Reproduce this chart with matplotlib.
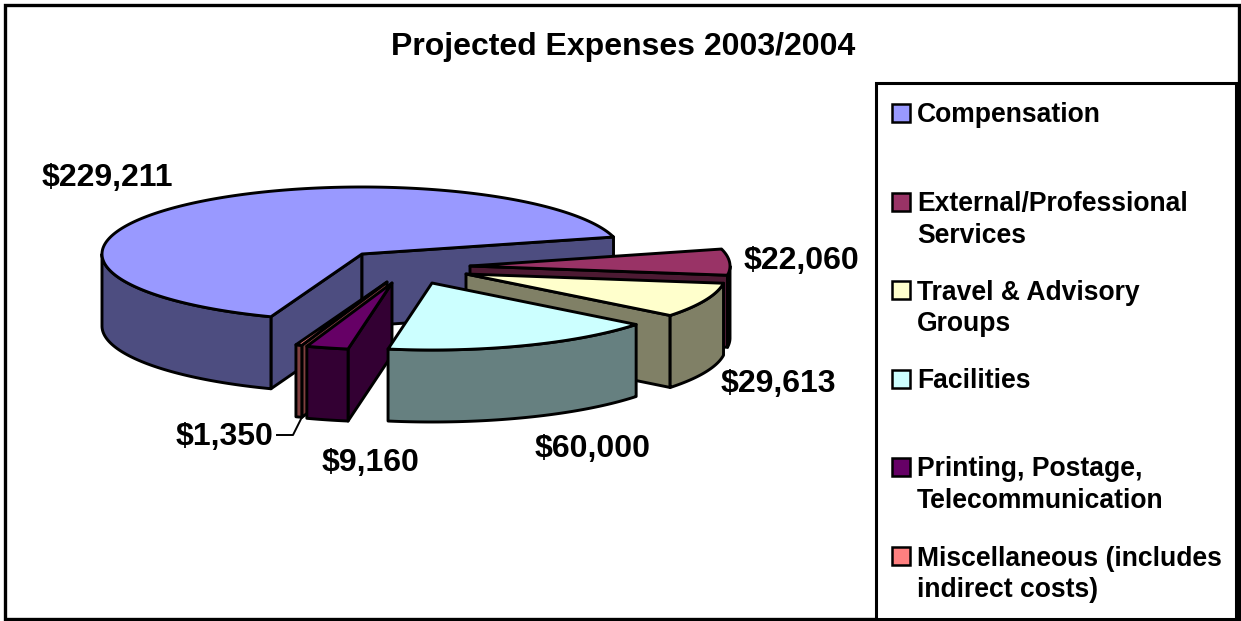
import numpy as np
import matplotlib
matplotlib.use("Agg")
import matplotlib.pyplot as plt
from matplotlib.patches import Polygon, Rectangle

plt.rcParams['font.family'] = ['Liberation Sans', 'DejaVu Sans']

categories = ["Compensation", "External/Professional\nServices", "Travel & Advisory\nGroups",
              "Facilities", "Printing, Postage,\nTelecommunication",
              "Miscellaneous (includes\nindirect costs)"]
values = [229211, 22060, 29613, 60000, 9160, 1350]
value_labels = ["$229,211", "$22,060", "$29,613", "$60,000", "$9,160", "$1,350"]
top_colors = ["#9999FF", "#993366", "#FFFFCC", "#CCFFFF", "#660066", "#FF8080"]
side_colors = ["#4D4D80", "#4D1A33", "#808066", "#668080", "#330033", "#804040"]

# layout (pixels)
W, H = 1241, 621
CX, CY, RX, RY, DEPTH = 362, 254, 260, 67, 72
START = 249.5
explode = [(0, 0), (108, 12), (104, 20), (70, 29), (30, 29), (25, 28)]
label_xy = [(107, 178), (801, 261), (778, 384), (593, 449), (371, 463), (225, 437)]
legend_first_y = [113, 202, 290, 379, 467, 556]
draw_order = [0, 1, 2, 5, 4, 3]
LW = 2.1

fig = plt.figure(figsize=(W / 100, H / 100), dpi=100, facecolor="white")
ax = fig.add_axes([0, 0, 1, 1])
ax.set_xlim(0, W)
ax.set_ylim(H, 0)
ax.axis("off")

sweeps = np.array(values) / np.sum(values) * 360
ends = START - np.cumsum(sweeps)
starts = ends + sweeps


def arc(ax0, ay0, a, b, dz=0):
    t = np.radians(np.linspace(a, b, max(int(abs(a - b)) * 2, 2) + 1))
    return np.column_stack([ax0 + RX * np.cos(t), ay0 - RY * np.sin(t) + dz])


def poly(pts, color):
    ax.add_patch(Polygon(pts, closed=True, facecolor=color, edgecolor="black",
                         linewidth=LW, joinstyle="round"))


for i in draw_order:
    s, e = starts[i], ends[i]
    ax0, ay0 = CX + explode[i][0], CY + explode[i][1]
    apex = np.array([ax0, ay0])
    down = np.array([0, DEPTH])
    if np.cos(np.radians(s)) < 0:
        p = arc(ax0, ay0, s, s)[0]
        poly([apex, p, p + down, apex + down], side_colors[i])
    if np.cos(np.radians(e)) > 0:
        p = arc(ax0, ay0, e, e)[0]
        poly([apex, p, p + down, apex + down], side_colors[i])
    for k in range(-2, 2):
        lo, hi = 180 + 360 * k, 360 + 360 * k
        a, b = min(s, hi), max(e, lo)
        if a > b:
            top = arc(ax0, ay0, a, b)
            poly(np.vstack([top, top[::-1] + down]), side_colors[i])
    poly(np.vstack([apex, arc(ax0, ay0, s, e)]), top_colors[i])

for txt, (x, y) in zip(value_labels, label_xy):
    ax.text(x, y, txt, ha="center", va="center", fontsize=23, fontweight="bold", color="black")

ax.plot([277, 293, 302], [435, 435, 417], color="black", lw=1.4)

ax.text(623, 47, "Projected Expenses 2003/2004", ha="center", va="center",
        fontsize=23, fontweight="bold", color="black")

ax.add_patch(Rectangle((5, 4.5), 1234, 614.5, fill=False, edgecolor="black", linewidth=2.4))
ax.add_patch(Rectangle((875.5, 83), 360, 536, facecolor="white", edgecolor="black", linewidth=2.2))

for name, color, y in zip(categories, top_colors, legend_first_y):
    ax.add_patch(Rectangle((892, y - 9), 18, 18, facecolor=color, edgecolor="black", linewidth=1.8))
    ax.text(917, y - 10.5, name, ha="left", va="top", fontsize=19.1, fontweight="bold",
            color="black", linespacing=1.26)

fig.savefig("out.png", dpi=100)
